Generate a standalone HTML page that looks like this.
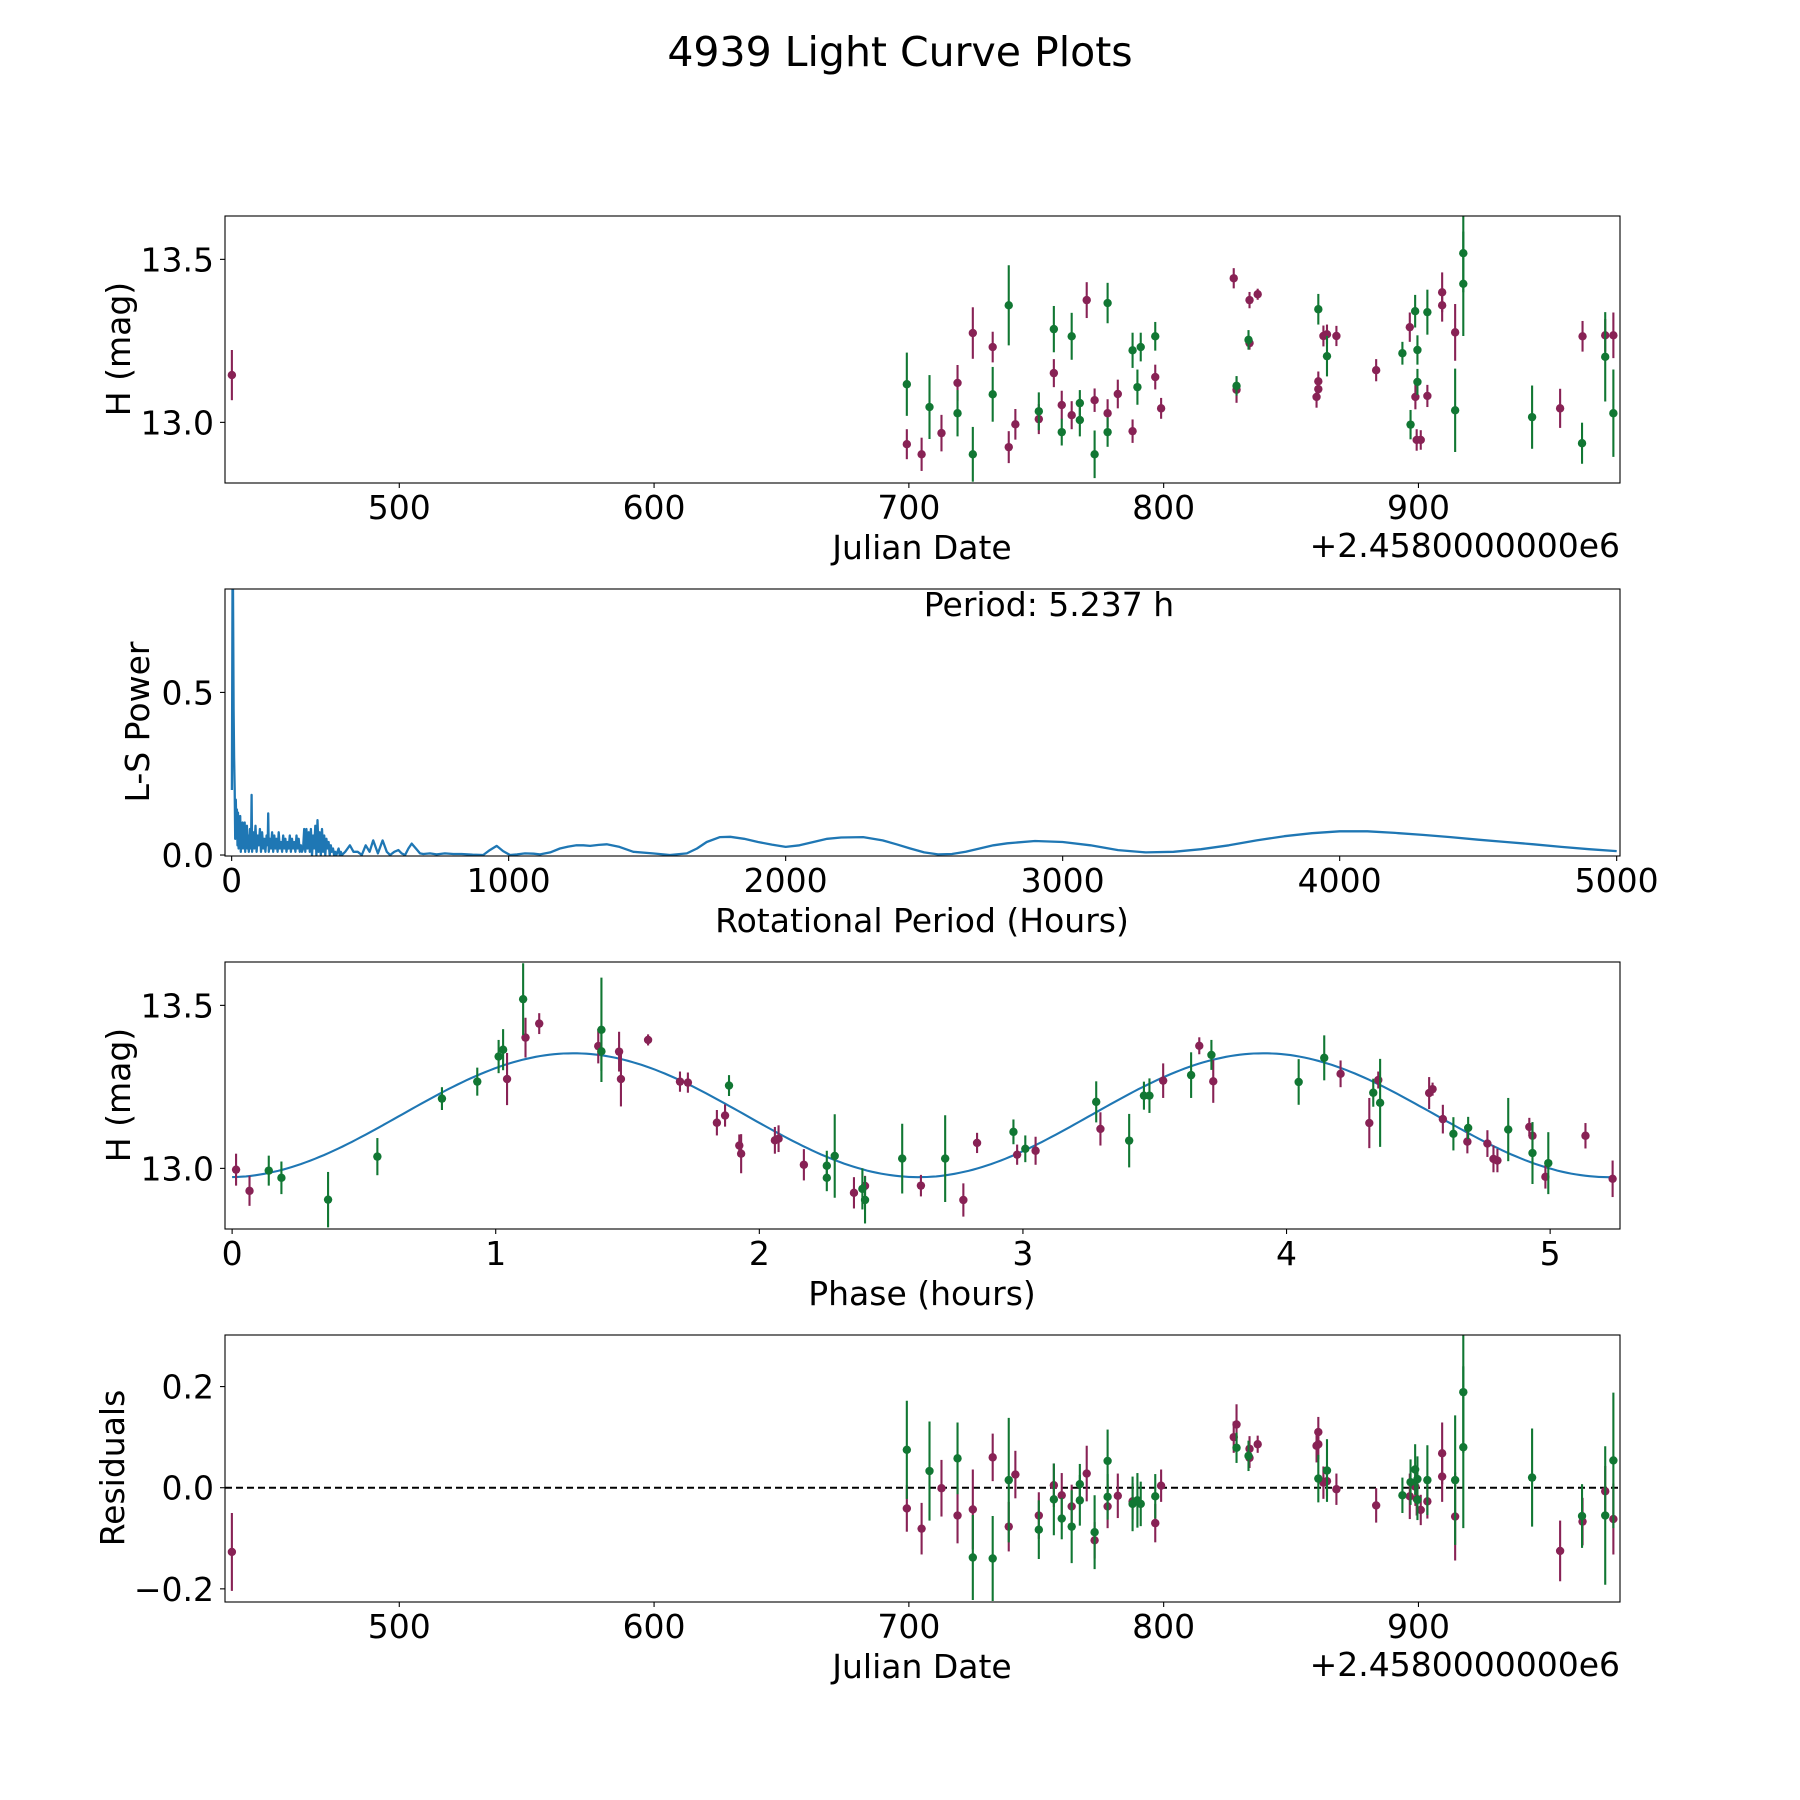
<!DOCTYPE html>
<html><head><meta charset="utf-8"><title>4939 Light Curve Plots</title>
<style>
html,body{margin:0;padding:0;background:#fff;}
svg{display:block;font-family:"DejaVu Sans","Liberation Sans",sans-serif;}
</style></head>
<body>
<svg id="fig" width="1800" height="1800" viewBox="0 0 1800 1800" xmlns="http://www.w3.org/2000/svg">
<rect x="0" y="0" width="1800" height="1800" fill="#fff"/>
<text x="900" y="66" font-size="41" text-anchor="middle">4939 Light Curve Plots</text>
</svg>
<script>
// ---------- Top light curve data (Julian date offset, H mag, error, filter) ----------
const topT = [434.3,699.2,699.2,705.0,708.1,712.8,719.1,719.1,725.1,725.1,732.9,732.9,739.2,739.2,741.8,751.0,751.0,756.9,756.9,760.0,760.0,763.9,763.9,767.1,767.1,769.8,772.9,772.9,778.0,778.0,778.0,782.0,787.8,787.8,791.0,789.7,796.7,796.7,799.0,
827.5,828.6,828.6,833.7,833.3,833.7,836.9,
860.7,860.7,860.7,860.0,862.7,864.1,864.1,867.8,883.4,893.7,896.6,896.9,898.7,899.6,899.6,898.8,899.3,900.9,903.5,903.5,909.3,909.3,914.4,914.4,917.6,917.6,944.6,955.6,964.2,964.4,973.3,973.3,976.5,976.5];
const topMag = [13.145,13.117,12.933,12.902,13.047,12.967,13.121,13.028,13.274,12.902,13.231,13.086,13.359,12.924,12.994,13.034,13.010,13.286,13.151,13.053,12.970,13.264,13.022,13.059,13.007,13.375,13.068,12.902,13.028,13.366,12.970,13.087,12.973,13.221,13.231,13.108,13.264,13.139,13.043,
13.442,13.112,13.100,13.375,13.253,13.243,13.393,
13.347,13.126,13.102,13.078,13.265,13.270,13.203,13.265,13.160,13.212,13.292,12.993,13.341,13.222,13.124,13.078,12.946,12.946,13.338,13.081,13.399,13.359,13.276,13.037,13.519,13.425,13.016,13.043,12.936,13.264,13.267,13.201,13.267,13.028];
const topErr = [0.077,0.097,0.046,0.051,0.098,0.056,0.055,0.071,0.079,0.084,0.047,0.084,0.123,0.049,0.047,0.058,0.046,0.071,0.043,0.044,0.041,0.072,0.043,0.040,0.050,0.055,0.036,0.073,0.043,0.062,0.045,0.044,0.036,0.054,0.044,0.054,0.044,0.038,0.032,
0.031,0.030,0.040,0.025,0.030,0.020,0.017,
0.047,0.030,0.030,0.033,0.032,0.030,0.062,0.031,0.034,0.035,0.045,0.045,0.050,0.045,0.040,0.038,0.033,0.030,0.069,0.034,0.061,0.050,0.087,0.128,0.120,0.160,0.097,0.060,0.063,0.047,0.050,0.137,0.070,0.134];
const topFilt = ['M','G','M','M','G','M','M','G','M','G','M','G','G','M','M','G','M','G','M','M','G','G','M','G','G','M','M','G','M','G','G','M','M','G','G','G','G','M','M',
'M','G','M','M','G','M','M',
'G','M','M','M','M','M','G','M','M','G','M','G','G','G','G','M','M','M','G','M','M','M','M','G','G','G','G','M','G','M','M','G','M','G'];
// ---------- Residuals (same order as top data) ----------
const resVal = [-0.127,0.075,-0.041,-0.081,0.033,-0.001,-0.055,0.058,-0.043,-0.138,0.060,-0.140,0.015,-0.077,0.026,-0.083,-0.055,-0.023,0.005,-0.015,-0.061,-0.077,-0.037,0.007,-0.025,0.028,-0.104,-0.088,-0.037,0.053,-0.018,-0.016,-0.027,-0.032,-0.032,-0.025,-0.017,-0.070,0.004,
0.100,0.079,0.125,0.077,0.063,0.059,0.086,
0.018,0.110,0.086,0.083,0.010,0.013,0.034,-0.003,-0.035,-0.015,-0.017,0.011,0.036,0.017,-0.024,0.002,-0.022,-0.044,0.015,-0.027,0.068,0.022,-0.057,0.015,0.189,0.080,0.020,-0.125,-0.056,-0.067,-0.007,-0.055,-0.062,0.054];
// ---------- Phased data ----------
const phX = [0.015,0.066,0.139,0.187,0.364,0.551,0.796,0.930,1.011,1.028,1.043,1.104,1.113,1.165,1.389,1.401,1.401,1.468,1.475,1.578,1.699,1.729,1.885,1.839,1.870,1.924,1.931,2.059,2.073,2.169,2.256,2.256,2.286,2.359,2.391,2.401,2.401,2.542,2.613,
2.705,2.774,2.826,2.964,2.978,3.009,3.048,3.278,3.294,3.403,3.459,3.480,3.532,3.638,3.669,3.715,3.722,4.046,4.143,4.205,4.314,4.329,4.348,4.355,4.541,4.554,4.593,4.633,4.689,4.686,4.762,4.785,4.800,4.841,4.921,4.933,4.933,4.982,4.993,5.134,5.237];
const phMag = [12.996,12.931,12.993,12.971,12.904,13.036,13.214,13.266,13.343,13.364,13.274,13.519,13.401,13.444,13.375,13.425,13.359,13.358,13.274,13.394,13.266,13.263,13.254,13.140,13.162,13.070,13.045,13.086,13.091,13.011,13.008,12.971,13.038,12.925,12.937,12.946,12.903,13.030,12.947,
13.030,12.903,13.078,13.112,13.042,13.060,13.054,13.204,13.121,13.085,13.223,13.223,13.269,13.286,13.376,13.348,13.267,13.265,13.339,13.290,13.139,13.232,13.271,13.201,13.231,13.243,13.151,13.106,13.124,13.082,13.076,13.029,13.024,13.119,13.127,13.100,13.047,12.974,13.016,13.100,12.968];
const phErr = [0.049,0.046,0.046,0.050,0.085,0.057,0.035,0.043,0.051,0.063,0.080,0.110,0.061,0.032,0.053,0.160,0.060,0.061,0.084,0.017,0.031,0.031,0.032,0.039,0.034,0.034,0.060,0.041,0.041,0.048,0.046,0.041,0.128,0.048,0.063,0.031,0.072,0.107,0.033,
0.133,0.051,0.031,0.038,0.031,0.041,0.043,0.063,0.051,0.082,0.043,0.053,0.053,0.070,0.026,0.046,0.066,0.070,0.069,0.041,0.077,0.043,0.026,0.135,0.049,0.020,0.044,0.051,0.034,0.036,0.041,0.041,0.036,0.097,0.028,0.041,0.095,0.036,0.095,0.039,0.056];
const phFilt = ['M','M','G','G','G','G','G','G','G','G','M','G','M','M','M','G','G','M','M','M','M','M','G','M','M','M','M','M','M','M','G','G','G','M','G','M','G','G','M',
'G','M','M','G','M','G','M','G','M','G','G','G','M','G','M','G','M','G','G','M','M','G','M','G','M','M','M','G','G','M','M','M','M','G','M','M','G','M','G','M','M'];
// fit model parameters (mean mag, amplitude, phase of maximum, half period)
const fitParams = [13.163, 0.19, 1.294, 2.6185];
const periodHours = 5.237;
// ---------- Periodogram ----------
const lsPeriod = [1,3,5,7,9,11,13,15,17,19,21,23,25,27,29,31,33,35,37,39,41,43,45,47,49,51,53,55,57,59,
62,66,70,72,74,78,82,86,90,94,98,102,106,110,114,118,122,126,130,132,134,138,142,146,150,154,158,162,166,170,174,178,182,186,190,194,198,202,206,210,214,218,222,226,230,234,238,242,246,250,254,258,262,266,270,274,278,282,286,290,294,298,302,306,310,314,318,322,326,330,334,338,342,346,350,354,358,362,366,370,374,378,382,386,390,394,398,
410,427,440,455,470,484,498,511,528,545,560,572,587,602,614,626,638,650,665,680,692,716,740,770,800,830,870,908,932,957,980,1005,1030,1059,1090,1113,1150,1185,1215,1245,1270,1294,1325,1354,1400,1450,1520,1582,1643,1680,1715,1763,1800,1850,1900,1950,2000,2050,2100,2150,2200,2280,2350,2400,2450,2500,2550,2600,2650,2700,2750,2800,2900,3000,3100,3200,3300,3400,3500,3600,3700,3800,3900,4000,4100,4200,4300,4400,4500,4600,4700,4800,4900,5000];
const lsPower = [0.20,0.82,0.82,0.45,0.30,0.20,0.05,0.17,0.08,0.14,0.03,0.13,0.02,0.11,0.04,0.12,0.01,0.09,0.06,0.10,0.02,0.08,0.03,0.10,0.01,0.07,0.05,0.09,0.02,0.06,
0.01,0.08,0.02,0.185,0.01,0.07,0.02,0.09,0.01,0.06,0.03,0.08,0.01,0.07,0.02,0.05,0.01,0.06,0.03,0.128,0.01,0.05,0.02,0.07,0.01,0.06,0.02,0.05,0.01,0.07,0.02,0.04,0.01,0.06,0.02,0.05,0.01,0.04,0.02,0.06,0.01,0.05,0.02,0.04,0.01,0.06,0.02,0.05,0.01,0.03,0.01,0.02,0.08,0.01,0.08,0.02,0.07,0.01,0.08,0.00,0.06,0.02,0.09,0.00,0.107,0.01,0.07,0.00,0.08,0.01,0.06,0.00,0.05,0.02,0.04,0.00,0.03,0.01,0.02,0.00,0.01,0.00,0.01,0.02,0.00,0.01,0.00,
0.01,0.03,0.01,0.01,0.00,0.03,0.01,0.045,0.005,0.045,0.01,0.00,0.01,0.015,0.005,0.00,0.02,0.035,0.02,0.005,0.003,0.005,0.002,0.005,0.003,0.003,0.001,0.00,0.015,0.028,0.012,0.00,0.002,0.005,0.004,0.002,0.008,0.02,0.026,0.03,0.03,0.028,0.031,0.033,0.025,0.01,0.005,0.00,0.005,0.02,0.04,0.055,0.056,0.05,0.04,0.032,0.025,0.03,0.04,0.05,0.054,0.055,0.045,0.033,0.02,0.008,0.002,0.003,0.01,0.02,0.03,0.036,0.043,0.04,0.03,0.015,0.008,0.01,0.018,0.03,0.045,0.058,0.067,0.073,0.073,0.068,0.062,0.055,0.047,0.04,0.033,0.025,0.018,0.012];

const NS = 'http://www.w3.org/2000/svg';
const svg = document.getElementById('fig');
const MAG = '#882255', GRN = '#117733', BLUE = '#1f77b4';
const AX_L = 225, AX_R = 1620, AX_H = 267;
const TOPS = [216, 589, 962, 1335];
const TICK_FS = 33;

function mk(tag, attrs, parent) {
  const el = document.createElementNS(NS, tag);
  for (const k in attrs) el.setAttribute(k, attrs[k]);
  (parent || svg).appendChild(el);
  return el;
}
function lin(d0, d1, r0, r1) { return v => r0 + (v - d0) * (r1 - r0) / (d1 - d0); }

function makeAxes(idx, xlim, ylim, name) {
  const top = TOPS[idx], bot = top + AX_H;
  const g = mk('g', {});
  
  
  const cp = mk('clipPath', { id: 'clip' + idx }, g);
  mk('rect', { x: AX_L, y: top, width: AX_R - AX_L, height: AX_H }, cp);
  const data = mk('g', { 'clip-path': 'url(#clip' + idx + ')' }, g);
  
  
  return { g, data, top, bot, x: lin(xlim[0], xlim[1], AX_L, AX_R), y: lin(ylim[0], ylim[1], bot, top) };
}
function frame(ax, name) {
  const r = mk('rect', { x: AX_L, y: ax.top, width: AX_R - AX_L, height: AX_H, fill: 'none', stroke: '#000', 'stroke-width': 1.1 }, ax.g);
  
  
}
function xTicks(ax, vals, labels, name) {
  vals.forEach((v, i) => {
    const px = ax.x(v);
    mk('line', { x1: px, x2: px, y1: ax.bot, y2: ax.bot + 5, stroke: '#000', 'stroke-width': 1.1 }, ax.g);
    const t = mk('text', { x: px, y: ax.bot + 36, 'font-size': TICK_FS, 'text-anchor': 'middle' }, ax.g);
    t.textContent = labels[i];
    
    
  });
}
function yTicks(ax, vals, labels, name) {
  vals.forEach((v, i) => {
    const py = ax.y(v);
    mk('line', { x1: AX_L - 5, x2: AX_L, y1: py, y2: py, stroke: '#000', 'stroke-width': 1.1 }, ax.g);
    const t = mk('text', { x: AX_L - 11, y: py + 12, 'font-size': TICK_FS, 'text-anchor': 'end' }, ax.g);
    t.textContent = labels[i];
    
    
  });
}
function label(txt, x, y, rot, size, anchor, name, parent) {
  const t = mk('text', { x: x, y: y, 'font-size': size || 33, 'text-anchor': anchor || 'middle' }, parent);
  if (rot) t.setAttribute('transform', 'rotate(-90 ' + x + ' ' + y + ')');
  t.textContent = txt;
  
  
  return t;
}
function errPoints(ax, xs, ys, es, fs, name) {
  const n = Math.min(xs.length, ys.length, es.length, fs.length);
  ['M', 'G'].forEach(f => {
    const col = f === 'M' ? MAG : GRN;
    for (let i = 0; i < n; i++) {
      if (fs[i] !== f) continue;
      const px = ax.x(xs[i]);
      const l = mk('line', { x1: px, x2: px, y1: ax.y(ys[i] - es[i]), y2: ax.y(ys[i] + es[i]), stroke: col, 'stroke-width': 2.1 }, ax.data);
      
      
      const c = mk('circle', { cx: px, cy: ax.y(ys[i]), r: 4.2, fill: col }, ax.data);
      
      
    }
  });
}

// ---- Axes 1: light curve ----
const ax1 = makeAxes(0, [431.6, 979.1], [12.814, 13.633], 'light-curve-panel');
errPoints(ax1, topT, topMag, topErr, topFilt, 'light-curve');
frame(ax1, 'light-curve');
xTicks(ax1, [500, 600, 700, 800, 900], ['500', '600', '700', '800', '900'], 'light-curve');
yTicks(ax1, [13.0, 13.5], ['13.0', '13.5'], 'light-curve');
label('Julian Date', 922, 559, false, 33, 'middle', 'light-curve-x-axis-title', ax1.g);
label('+2.4580000000e6', 1620, 557, false, 33, 'end', 'light-curve-x-offset-text', ax1.g);
label('H (mag)', 130, 349, true, 33, 'middle', 'light-curve-y-axis-title', ax1.g);

// ---- Axes 2: periodogram ----
const ax2 = makeAxes(1, [-24, 5012], [-0.003, 0.818], 'periodogram-panel');
let d = '';
for (let i = 0; i < Math.min(lsPeriod.length, lsPower.length); i++) {
  d += (i ? 'L' : 'M') + ax2.x(lsPeriod[i]).toFixed(1) + ',' + ax2.y(lsPower[i]).toFixed(1);
}
const lsLine = mk('path', { d: d, fill: 'none', stroke: BLUE, 'stroke-width': 2.3, 'stroke-linejoin': 'round' }, ax2.data);


frame(ax2, 'periodogram');
xTicks(ax2, [0, 1000, 2000, 3000, 4000, 5000], ['0', '1000', '2000', '3000', '4000', '5000'], 'periodogram');
yTicks(ax2, [0, 0.5], ['0.0', '0.5'], 'periodogram');
label('Rotational Period (Hours)', 922, 932, false, 33, 'middle', 'periodogram-x-axis-title', ax2.g);
label('L-S Power', 149, 722, true, 33, 'middle', 'periodogram-y-axis-title', ax2.g);
label('Period: ' + periodHours.toFixed(3) + ' h', 1049, 616, false, 33, 'middle', 'period-annotation', ax2.g);

// ---- Axes 3: phased ----
const ax3 = makeAxes(2, [-0.027, 5.265], [12.814, 13.633], 'phase-panel');
let fd = '';
for (let k = 0; k <= 300; k++) {
  const ph = periodHours * k / 300;
  const m = fitParams[0] + fitParams[1] * Math.cos(2 * Math.PI * (ph - fitParams[2]) / fitParams[3]);
  fd += (k ? 'L' : 'M') + ax3.x(ph).toFixed(1) + ',' + ax3.y(m).toFixed(1);
}
const fitLine = mk('path', { d: fd, fill: 'none', stroke: BLUE, 'stroke-width': 2.1 }, ax3.data);


errPoints(ax3, phX, phMag, phErr, phFilt, 'phase');
frame(ax3, 'phase');
xTicks(ax3, [0, 1, 2, 3, 4, 5], ['0', '1', '2', '3', '4', '5'], 'phase');
yTicks(ax3, [13.0, 13.5], ['13.0', '13.5'], 'phase');
label('Phase (hours)', 922, 1305, false, 33, 'middle', 'phase-x-axis-title', ax3.g);
label('H (mag)', 130, 1095, true, 33, 'middle', 'phase-y-axis-title', ax3.g);

// ---- Axes 4: residuals ----
const ax4 = makeAxes(3, [431.6, 979.1], [-0.226, 0.302], 'residuals-panel');
const zl = mk('line', { x1: AX_L, x2: AX_R, y1: ax4.y(0), y2: ax4.y(0), stroke: '#000', 'stroke-width': 2, 'stroke-dasharray': '7,4' }, ax4.data);


errPoints(ax4, topT, resVal, topErr, topFilt, 'residual');
frame(ax4, 'residuals');
xTicks(ax4, [500, 600, 700, 800, 900], ['500', '600', '700', '800', '900'], 'residuals');
yTicks(ax4, [-0.2, 0, 0.2], ['\u22120.2', '0.0', '0.2'], 'residuals');
label('Julian Date', 922, 1678, false, 33, 'middle', 'residuals-x-axis-title', ax4.g);
label('+2.4580000000e6', 1620, 1676, false, 33, 'end', 'residuals-x-offset-text', ax4.g);
label('Residuals', 124, 1468, true, 33, 'middle', 'residuals-y-axis-title', ax4.g);
</script>
</body></html>
